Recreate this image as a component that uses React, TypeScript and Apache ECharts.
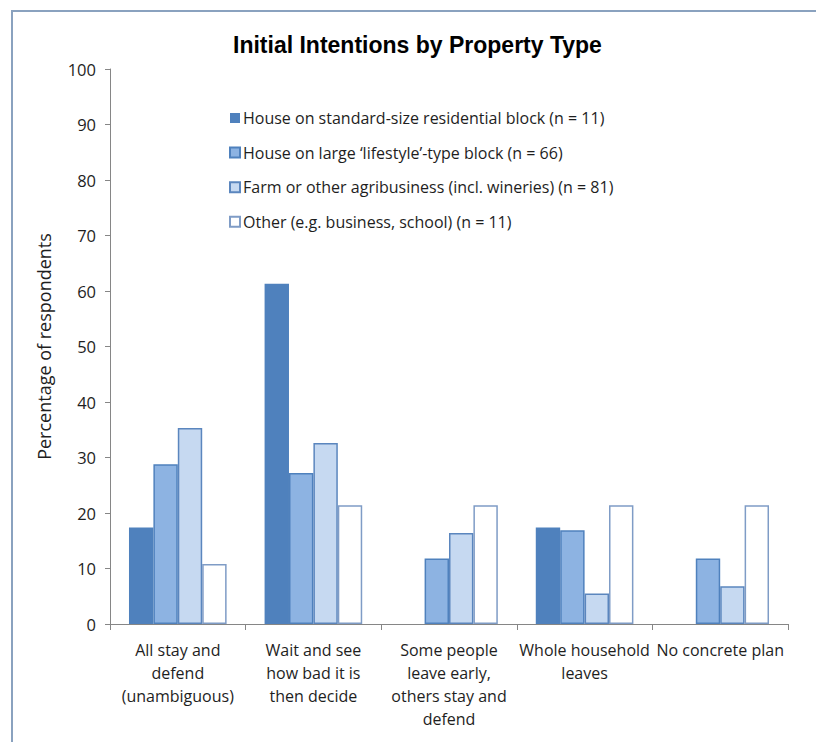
import React, { useEffect, useRef } from "react";
import * as echarts from "echarts";

// Response categories (x axis), one label line per row
const categories = [
  "All stay and\ndefend\n(unambiguous)",
  "Wait and see\nhow bad it is\nthen decide",
  "Some people\nleave early,\nothers stay and\ndefend",
  "Whole household\nleaves",
  "No concrete plan",
];

// Property types (series names)
const seriesNames = [
  "House on standard-size residential block (n = 11)",
  "House on large \u2018lifestyle\u2019-type block (n = 66)",
  "Farm or other agribusiness (incl. wineries) (n = 81)",
  "Other (e.g. business, school) (n = 11)",
];

// Percentage of respondents per category
const standardBlock = [17.4, 61.3, 0, 17.4, 0];
const lifestyleBlock = [28.8, 27.2, 11.8, 16.9, 11.8];
const farmBusiness = [35.3, 32.6, 16.4, 5.5, 6.8];
const otherProperty = [10.8, 21.4, 21.4, 21.4, 21.4];

// Y axis range
const yMin = 0;
const yMax = 100;
const yStep = 10;

const fills = ["#4F81BD", "#8DB3E2", "#C6D9F1", "#FFFFFF"];
const borders = ["#4F81BD", "#4F81BD", "#5B86BE", "#7F9CC6"];
const borderWidths = [0, 1.5, 1.5, 1.5];

const FONT = "'Open Sans', 'Noto Sans', sans-serif";
const TEXT = "#1E1E1E";

export default function App() {
  const ref = useRef<HTMLDivElement>(null);

  useEffect(() => {
    if (!ref.current) return;
    const chart = echarts.init(ref.current, undefined, { renderer: "svg" });
    const values = [standardBlock, lifestyleBlock, farmBusiness, otherProperty];

    chart.setOption({
      animation: false,
      backgroundColor: "#FFFFFF",
      title: {
        text: "Initial Intentions by Property Type",
        left: 228,
        top: 28,
        textStyle: {
          fontFamily: "'Liberation Sans', Arial, sans-serif",
          fontWeight: "bold",
          fontSize: 23,
          color: "#000000",
        },
      },
      graphic: [
        {
          type: "rect",
          shape: { x: 12, y: 11, width: 900, height: 900 },
          style: { fill: "none", stroke: "#8AA2BF", lineWidth: 2 },
          silent: true,
        },
      ],
      legend: {
        orient: "vertical",
        left: 229,
        top: 110,
        padding: 0,
        itemWidth: 10,
        itemHeight: 10,
        itemGap: 18.6,
        icon: "rect",
        data: seriesNames,
        textStyle: {
          fontFamily: FONT,
          fontSize: 16,
          lineHeight: 16,
          color: TEXT,
          padding: [0, 0, 0, -2],
        },
      },
      grid: { left: 110, right: 28, top: 69, bottom: 118 },
      xAxis: {
        type: "category",
        data: categories,
        boundaryGap: true,
        axisLine: { lineStyle: { color: "#868686", width: 1 } },
        axisTick: { show: true, length: 6, alignWithLabel: false, lineStyle: { color: "#868686" } },
        axisLabel: {
          interval: 0,
          margin: 14,
          fontFamily: FONT,
          fontSize: 16,
          lineHeight: 23,
          color: TEXT,
          align: "center",
        },
      },
      yAxis: {
        type: "value",
        min: yMin,
        max: yMax,
        interval: yStep,
        name: "Percentage of respondents",
        nameLocation: "middle",
        nameGap: 57,
        nameRotate: 90,
        nameTextStyle: { fontFamily: FONT, fontSize: 18, color: TEXT, padding: [0, 0, 0, 0] },
        axisLine: { show: true, lineStyle: { color: "#868686", width: 1 } },
        axisTick: { show: true, length: 5, lineStyle: { color: "#868686" } },
        splitLine: { show: false },
        axisLabel: {
          margin: 14,
          fontFamily: FONT,
          fontSize: 16.5,
          color: TEXT,
        },
      },
      series: seriesNames.map((name, i) => ({
        name,
        type: "bar",
        data: values[i],
        barGap: "0%",
        barCategoryGap: "28%",
        itemStyle: {
          color: fills[i],
          borderColor: borders[i],
          borderWidth: borderWidths[i],
        },
      })),
    });

    return () => chart.dispose();
  }, []);

  return (
    <div
      ref={ref}
      style={{ position: "absolute", left: 0, top: 0, width: 816, height: 742, background: "#FFFFFF" }}
    />
  );
}
